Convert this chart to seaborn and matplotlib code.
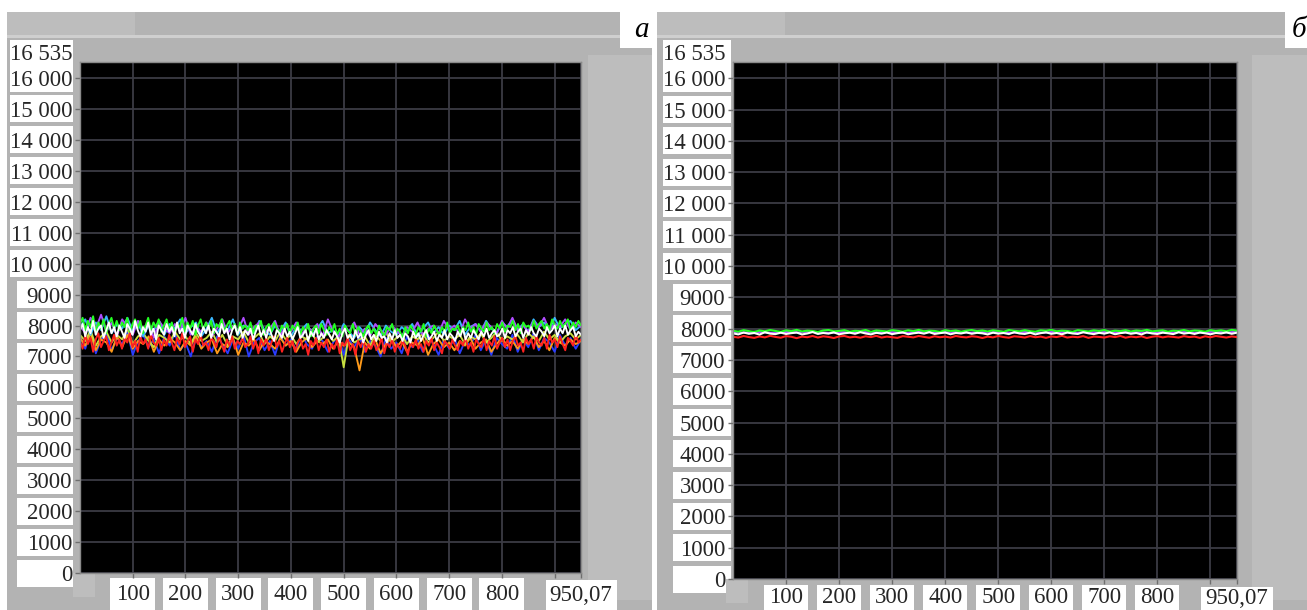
import numpy as np
import pandas as pd
import matplotlib
matplotlib.use("Agg")
import matplotlib.pyplot as plt
from matplotlib.patches import Rectangle
import seaborn as sns

# ---------------- data ----------------
X_MAX = 950.07
Y_MAX = 16535
y_ticks = [0, 1000, 2000, 3000, 4000, 5000, 6000, 7000, 8000, 9000,
           10000, 11000, 12000, 13000, 14000, 15000, 16000]
y_tick_labels = ["0", "1000", "2000", "3000", "4000", "5000", "6000", "7000",
                 "8000", "9000", "10 000", "11 000", "12 000", "13 000",
                 "14 000", "15 000", "16 000"]
top_label = "16 535"
x_ticks = [100, 200, 300, 400, 500, 600, 700, 800, 900]
x_tick_labels = ["100", "200", "300", "400", "500", "600", "700", "800"]
x_end_label = "950,07"
panel_letters = ["а", "б"]

# panel а: noisy signals
white_a = [7850, 8050, 7650, 7950, 7750, 8150, 7700, 7900, 8000, 7600, 7850, 8100, 7750, 7950, 7650, 8000,
           7800, 7600, 8050, 7900, 7700, 8150, 7850, 7650, 7950, 7800, 8100, 7700, 7900, 7550, 8000, 7850,
           7700, 8050, 7800, 7950, 7650, 8100, 7750, 7900, 7600, 8000, 7850, 7700, 8050, 7800, 7650, 7950,
           7750, 8000, 7600, 7900, 7800, 7650, 8050, 7750, 7900, 7550, 7850, 8000, 7700, 7950, 7600, 7850,
           7700, 7900, 7550, 7800, 8000, 7650, 7850, 7600, 7950, 7700, 7500, 7850, 7750, 7600, 7900, 7650,
           7800, 7550, 7750, 7950, 7600, 7700, 7850, 7500, 7800, 7650, 7900, 7550, 7750, 7600, 7850, 7700,
           7550, 7800, 7650, 7450, 7750, 7900, 7600, 7700, 7500, 7850, 7600, 7750, 7450, 7700, 7850, 7550,
           7700, 7500, 7800, 7600, 7650, 7450, 7750, 7550, 7850, 7600, 7700, 7500, 7750, 7650, 7450, 7800,
           7600, 7750, 7500, 7700, 7850, 7550, 7650, 7800, 7500, 7700, 7600, 7850, 7550, 7750, 7650, 7500,
           7800, 7650, 7900, 7550, 7750, 7600, 7850, 7700, 7550, 7800, 7650, 7900, 7600, 7750, 7850, 7650,
           7700, 7900, 7600, 7850, 7750, 7950, 7650, 7800, 7900, 7600, 7850, 7700, 7950, 7750, 7650, 7900,
           7800, 7650, 7950, 7750, 7850, 8000, 7650, 7900, 7750, 8000, 7700, 7850, 7950, 7650, 7800, 7700]
red_a = [7500, 7250, 7700, 7400, 7600, 7150, 7550, 7750, 7300, 7500, 7650, 7200, 7450, 7700, 7350, 7550,
         7250, 7600, 7450, 7750, 7300, 7500, 7150, 7650, 7400, 7550, 7250, 7700, 7450, 7350, 7600, 7200,
         7550, 7350, 7700, 7450, 7200, 7600, 7400, 7750, 7300, 7500, 7650, 7150, 7550, 7400, 7700, 7350,
         7450, 7200, 7600, 7500, 7300, 7700, 7400, 7150, 7550, 7350, 7650, 7250, 7500, 7400, 7600, 7300,
         7400, 7650, 7250, 7500, 7100, 7550, 7350, 7600, 7200, 7450, 7650, 7300, 7500, 7150, 7400, 7600,
         7300, 7500, 7150, 7450, 7600, 7250, 7400, 7050, 7500, 7350, 7600, 7200, 7450, 7300, 7550, 7150,
         7400, 7250, 7550, 7100, 7450, 7350, 7600, 7200, 7400, 7050, 7500, 7300, 7550, 7150, 7400, 7250,
         7500, 7200, 7350, 7600, 7100, 7450, 7300, 7550, 7150, 7400, 7250, 7500, 7350, 7050, 7450, 7300,
         7550, 7250, 7400, 7150, 7500, 7350, 7600, 7200, 7450, 7300, 7100, 7500, 7400, 7250, 7550, 7350,
         7200, 7500, 7350, 7600, 7250, 7450, 7150, 7550, 7400, 7300, 7600, 7200, 7500, 7350, 7650, 7250,
         7450, 7600, 7300, 7550, 7200, 7500, 7650, 7350, 7450, 7150, 7600, 7400, 7550, 7250, 7650, 7450,
         7350, 7600, 7250, 7700, 7450, 7550, 7300, 7650, 7400, 7200, 7600, 7500, 7350, 7700, 7450, 7550]
green_a = [8050, 8250, 7850, 8150, 7950, 8300, 7800, 8100, 7900, 8200, 7750, 8050, 8250, 7900, 8150, 7850,
           8100, 7950, 8250, 7800, 8050, 8200, 7900, 8150, 7750, 8000, 8250, 7850, 8100, 7950, 8200, 7800,
           8000, 8200, 7850, 8100, 7750, 8050, 7950, 8250, 7800, 8100, 7900, 8150, 7700, 8000, 8200, 7850,
           8100, 7900, 8150, 7750, 8050, 7950, 8200, 7800, 8000, 8150, 7850, 8050, 7700, 8100, 7900, 8000,
           7850, 8100, 7750, 8000, 7900, 8150, 7700, 7950, 8050, 7800, 8100, 7900, 7750, 8000, 7850, 8050,
           7750, 8000, 7850, 8100, 7700, 7950, 7800, 8050, 7650, 7900, 8000, 7750, 8050, 7850, 7700, 7950,
           7800, 8050, 7700, 7900, 7650, 8000, 7850, 7750, 8050, 7700, 7950, 7800, 7650, 7900, 8000, 7750,
           7900, 7700, 8000, 7800, 7650, 7950, 7850, 8050, 7700, 7900, 7800, 7600, 7950, 7750, 8000, 7850,
           7700, 7950, 7800, 8050, 7650, 7900, 7750, 8000, 7850, 7700, 7950, 7800, 8100, 7750, 7900, 7850,
           8000, 7750, 7950, 7850, 8100, 7800, 7950, 7700, 8050, 7900, 7800, 8100, 7850, 7950, 7750, 8050,
           7900, 8100, 7800, 8000, 7950, 8150, 7850, 8050, 7750, 8100, 7950, 8000, 7850, 8150, 7900, 8050,
           8150, 7900, 8050, 7850, 8200, 8000, 7900, 8150, 7950, 8050, 8200, 7850, 8100, 7950, 8150, 8000]
blue_a = [7650, 7250, 7850, 7100, 7550, 7750, 7200, 7600, 7400, 7800, 7050, 7500,
          7700, 7300, 7550, 7100, 7650, 7350, 7750, 7200, 7450, 7000, 7600, 7300,
          7500, 7150, 7650, 7400, 7100, 7550, 7250, 7700, 7000, 7450, 7600, 7200,
          7500, 7050, 7650, 7350, 7550, 7200, 7750, 7400, 7250, 7650, 7500, 7150,
          7450, 7700, 7050, 7550, 7300, 7650, 7150, 7500, 7350, 7000, 7600, 7250,
          7450, 7100, 7650, 7300, 7550, 7150, 7700, 7400, 7050, 7550, 7250, 7600,
          7100, 7500, 7350, 7700, 7200, 7550, 7050, 7600, 7400, 7250, 7700, 7150,
          7550, 7300, 7750, 7200, 7600, 7450, 7150, 7700, 7350, 7600, 7250, 7550]
cyan_a = [7950, 8200, 7700, 8100, 7850, 8300, 7750, 8050, 7900, 8250, 7800, 8100,
          7650, 8000, 7850, 8150, 7700, 8050, 7900, 8200, 7750, 7950, 8100, 7650,
          7900, 8250, 7750, 8050, 7850, 8200, 7700, 8000, 7950, 7750, 8150, 7850,
          7700, 8000, 7800, 8100, 7650, 7950, 7850, 8050, 7700, 7900, 8150, 7750,
          7850, 7650, 8050, 7800, 7600, 7950, 7750, 8100, 7850, 7650, 8000, 7800,
          7700, 7950, 7800, 8050, 7650, 7900, 8100, 7750, 7950, 7700, 8000, 7850,
          8150, 7700, 7950, 8050, 7800, 8150, 7900, 7750, 8100, 7950, 8200, 7850,
          8050, 7800, 8200, 7950, 8100, 7850, 8250, 7900, 8050, 8150, 7850, 8000]
purple_a = [8000, 7750, 8250, 7900, 8350, 7800, 8100, 7650, 8200, 7950, 7700, 8150,
            7850, 8050, 7600, 8150, 7900, 7750, 8050, 7850, 8250, 7700, 7950, 7800,
            8100, 7650, 7900, 8200, 7750, 8000, 7850, 8250, 7700, 7950, 8100, 7800,
            7900, 8150, 7650, 8000, 7800, 8100, 7700, 7950, 7850, 8050, 7650, 8200,
            7800, 7650, 7950, 7800, 8100, 7700, 7900, 7650, 8050, 7850, 7700, 8000,
            7850, 7650, 7950, 7800, 8100, 7700, 7900, 8000, 7750, 8150, 7850, 8000,
            7700, 8200, 7900, 8050, 7800, 8100, 7950, 7750, 8150, 7900, 8250, 7850,
            8000, 7800, 8150, 7950, 8250, 7850, 8050, 7950, 8200, 7850, 8100, 7950]
orange_a = [7600, 7350, 7750, 7200, 7550, 7450, 7150, 7650, 7300, 7700, 7250, 7500,
            7400, 7650, 7150, 7550, 7350, 7600, 7450, 7200, 7500, 7350, 7650, 7250,
            7450, 7550, 7100, 7400, 7300, 7600, 7050, 7450, 7350, 7550, 7200, 7500,
            7400, 7250, 7600, 7350, 7500, 7150, 7450, 7600, 7300, 7500, 7400, 7550,
            7250, 7500, 7350, 7450, 7300, 6550, 7450, 7250, 7550, 7100, 7400, 7600,
            7300, 7500, 7150, 7450, 7350, 7600, 7050, 7400, 7550, 7300, 7450, 7200,
            7500, 7350, 7600, 7250, 7450, 7550, 7150, 7400, 7600, 7350, 7500, 7250,
            7550, 7400, 7650, 7300, 7500, 7200, 7600, 7450, 7350, 7550, 7400, 7500]
yellow_a = [7700, 7500, 7850, 7350, 7650, 7800, 7450, 7700, 7550, 7900, 7400, 7650,
            7750, 7500, 7300, 7700, 7600, 7450, 7800, 7550, 7650, 7400, 7750, 7500,
            7600, 7800, 7450, 7700, 7350, 7650, 7550, 7800, 7450, 7600, 7750, 7400,
            7650, 7500, 7800, 7550, 7700, 7400, 7650, 7550, 7750, 7450, 7600, 7800,
            7500, 7650, 6650, 7700, 7450, 7550, 7650, 7350, 7700, 7500, 7800, 7450,
            7600, 7700, 7400, 7650, 7550, 7750, 7450, 7600, 7800, 7500, 7650, 7550,
            7700, 7400, 7650, 7550, 7750, 7450, 7600, 7800, 7500, 7650, 7550, 7700,
            7450, 7750, 7600, 7500, 7800, 7550, 7700, 7450, 7650, 7750, 7550, 7700]

# panel б: nearly flat signals
green_b = [7930, 7905, 7950, 7920, 7895, 7940, 7915, 7955, 7925, 7900, 7945, 7920,
           7960, 7910, 7935, 7925, 7895, 7940, 7955, 7915, 7925, 7950, 7905, 7930,
           7920, 7955, 7900, 7940, 7925, 7910, 7950, 7930, 7905, 7945, 7920, 7960,
           7915, 7935, 7925, 7900, 7950, 7920, 7940, 7905, 7935, 7955, 7920, 7940,
           7910, 7945, 7925, 7900, 7955, 7930, 7915, 7950, 7920, 7905, 7945, 7930,
           7960, 7915, 7935, 7925, 7900, 7950, 7930, 7910, 7945, 7925, 7955, 7905,
           7935, 7920, 7950, 7910, 7940, 7925, 7960, 7915, 7930, 7945, 7905, 7935,
           7925, 7955, 7915, 7940, 7930, 7905, 7950, 7925, 7945, 7915, 7960, 7935]
white_b = [7850, 7815, 7875, 7835, 7860, 7810, 7885, 7840, 7825, 7870, 7830, 7855,
           7875, 7815, 7845, 7890, 7830, 7860, 7840, 7880, 7820, 7850, 7870, 7835,
           7885, 7845, 7815, 7865, 7840, 7875, 7825, 7855, 7880, 7820, 7850, 7870,
           7840, 7885, 7830, 7855, 7875, 7820, 7860, 7845, 7880, 7835, 7865, 7850,
           7815, 7870, 7840, 7860, 7825, 7885, 7845, 7830, 7870, 7815, 7855, 7880,
           7835, 7860, 7820, 7875, 7845, 7830, 7885, 7850, 7825, 7865, 7840, 7880,
           7820, 7855, 7875, 7835, 7860, 7815, 7880, 7845, 7830, 7870, 7850, 7825,
           7885, 7840, 7865, 7830, 7875, 7850, 7820, 7860, 7845, 7880, 7835, 7870]
red_b = [7740, 7715, 7765, 7730, 7705, 7750, 7720, 7770, 7735, 7710, 7760, 7740,
         7695, 7745, 7725, 7765, 7715, 7755, 7735, 7700, 7750, 7765, 7720, 7740,
         7710, 7755, 7730, 7770, 7715, 7745, 7725, 7705, 7760, 7740, 7720, 7765,
         7735, 7710, 7755, 7725, 7745, 7715, 7765, 7735, 7720, 7755, 7740, 7700,
         7745, 7720, 7765, 7730, 7710, 7755, 7740, 7715, 7760, 7725, 7745, 7705,
         7750, 7730, 7770, 7715, 7740, 7725, 7760, 7705, 7745, 7735, 7715, 7755,
         7730, 7765, 7710, 7745, 7725, 7755, 7700, 7740, 7760, 7720, 7750, 7735,
         7715, 7760, 7730, 7745, 7705, 7755, 7725, 7765, 7740, 7715, 7750, 7730]
purple_b = [7890, 7870, 7900, 7880, 7860, 7895, 7875, 7905, 7885, 7865, 7890, 7880,
            7900, 7870, 7895, 7885, 7860, 7890, 7905, 7875, 7885, 7900, 7870, 7890,
            7880, 7905, 7865, 7895, 7885, 7870, 7900, 7890, 7865, 7895, 7880, 7905,
            7875, 7890, 7885, 7865, 7900, 7880, 7895, 7870, 7890, 7905, 7880, 7895]

colors = {"blue": "#2a3cff", "orange": "#ff9a1a", "yellow": "#c8e040",
          "cyan": "#3ab8ff", "purple": "#b04cff", "green": "#22ff22",
          "red": "#ff2020", "white": "#ffffff"}

series_a = {"blue": blue_a, "orange": orange_a, "yellow": yellow_a, "cyan": cyan_a,
            "purple": purple_a, "green": green_a, "red": red_a, "white": white_a}
series_b = {"red": red_b, "purple": purple_b, "green": green_b, "white": white_b}


def long_frame(series):
    frames = []
    for name, vals in series.items():
        xs = np.linspace(0, X_MAX, len(vals))
        frames.append(pd.DataFrame({"x": xs, "y": vals, "ch": name}))
    return pd.concat(frames, ignore_index=True)


# ---------------- figure ----------------
sns.set_style("dark")
plt.rcParams["font.family"] = ["Liberation Serif", "DejaVu Serif"]

W, H = 1307, 610
fig = plt.figure(figsize=(W / 100, H / 100), dpi=100)
fig.patch.set_facecolor("white")

GRAY = "#b3b3b3"
LIGHT = "#bdbdbd"
FS = 16.5


def rect(x0, y0, x1, y1, color, z=-5):
    fig.add_artist(Rectangle((x0 / W, 1 - y1 / H), (x1 - x0) / W, (y1 - y0) / H,
                             transform=fig.transFigure, facecolor=color,
                             edgecolor="none", zorder=z))


panels = [
    dict(l=80, r=581, t=61.5, b=573, gx0=7, gx1=652, bw=10, bn=17, lab_r=73,
         xbox_w=45, xlab_y0=578, end_box=(546, 617), letter_box=(620, 652),
         side=(588, 652), data=series_a, lw=1.35, xoff=14),
    dict(l=733, r=1237, t=61.5, b=579, gx0=657, gx1=1307, bw=663, bn=673, lab_r=731,
         xbox_w=44, xlab_y0=585, end_box=(1201, 1273), letter_box=(1285, 1307),
         side=(1252, 1307), data=series_b, lw=1.5, xoff=10),
]

for i, P in enumerate(panels):
    rect(P["gx0"], 12, P["gx1"], H, GRAY, z=-10)
    rect(P["gx0"], 12, P["gx0"] + 128, 35, LIGHT, z=-9)
    rect(P["gx0"], 35, P["letter_box"][0], 37.5, "#cfcfcf", z=-9)
    rect(P["side"][0], 55, P["side"][1], 600, LIGHT, z=-9)
    rect(P["letter_box"][0], 12, P["letter_box"][1], 48, "white", z=-8)
    fig.text((P["letter_box"][0] + P["letter_box"][1]) / 2 / W + (0.004 if i == 0 else 0.002),
             1 - 30 / H, panel_letters[i], fontsize=21, style="italic",
             ha="center", va="center", color="black")

    ax = fig.add_axes([P["l"] / W, 1 - P["b"] / H, (P["r"] - P["l"]) / W,
                       (P["b"] - P["t"]) / H])
    ax.set_facecolor("black")
    df = long_frame(P["data"])
    order = list(P["data"].keys())
    sns.lineplot(data=df, x="x", y="y", hue="ch", hue_order=order,
                 palette={k: colors[k] for k in order}, estimator=None, sort=False,
                 linewidth=P["lw"], legend=False, ax=ax)
    ax.set_xlim(0, X_MAX)
    ax.set_ylim(0, Y_MAX)
    ax.set_xlabel("")
    ax.set_ylabel("")
    ax.set_yticks(y_ticks)
    ax.set_xticks(x_ticks + [X_MAX])
    ax.set_yticklabels([])
    ax.set_xticklabels([])
    ax.grid(True, color="#3b3b44", linewidth=1.3)
    ax.tick_params(axis="both", length=3.5, width=1, color="#6e6e6e",
                   direction="out", left=True, bottom=True)
    for s in ax.spines.values():
        s.set_color("#8a8a8a")
        s.set_linewidth(1.0)

    pxv = (P["b"] - P["t"]) / Y_MAX

    def ypix(v):
        return P["b"] - v * pxv

    rect(P["bw"], 40, P["lab_r"], 92, "white", z=-4)
    for v, lab in zip(y_ticks, y_tick_labels):
        yc = ypix(v)
        if v < 16000:
            x0 = P["bw"] if v >= 10000 else P["bn"]
            rect(x0, yc - 13.5, P["lab_r"], yc + 13.5, "white", z=-4)
        ax.annotate(lab, xy=(0, v), xycoords=("axes fraction", "data"),
                    xytext=(-5.5, 0), textcoords="offset points", ha="right",
                    va="center_baseline", fontsize=FS, annotation_clip=False)
    ax.annotate(top_label, xy=(0, Y_MAX), xycoords=("axes fraction", "data"),
                xytext=(-5.5, 6.5), textcoords="offset points", ha="right",
                va="center_baseline", fontsize=FS, annotation_clip=False)

    rect(P["l"] - 7, P["b"], P["l"] + 15, P["b"] + 24, LIGHT, z=-4)

    pxx = (P["r"] - P["l"]) / X_MAX
    for v, lab in zip(x_ticks, x_tick_labels):
        xc = P["l"] + v * pxx
        rect(xc - P["xbox_w"] / 2, P["xlab_y0"], xc + P["xbox_w"] / 2, H, "white", z=-4)
        ax.annotate(lab, xy=(v, 0), xycoords=("data", "axes fraction"),
                    xytext=(0, -(P["xlab_y0"] - P["b"] + P["xoff"]) * 0.72),
                    textcoords="offset points", ha="center", va="center_baseline",
                    fontsize=FS, annotation_clip=False)
    rect(P["end_box"][0], P["xlab_y0"] + 2, P["end_box"][1], H, "white", z=-4)
    ax.annotate(x_end_label, xy=(X_MAX, 0), xycoords=("data", "axes fraction"),
                xytext=(0, -(P["xlab_y0"] - P["b"] + P["xoff"] + 1) * 0.72),
                textcoords="offset points", ha="center", va="center_baseline",
                fontsize=FS, annotation_clip=False)

fig.savefig("out.png", dpi=100, facecolor=fig.get_facecolor())
